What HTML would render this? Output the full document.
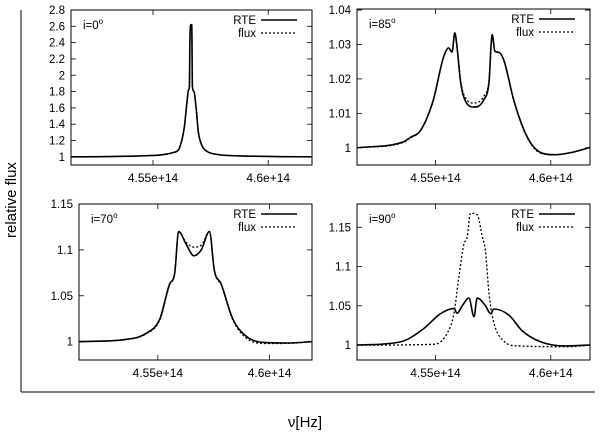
<!DOCTYPE html>
<html><head><meta charset="utf-8">
<style>
body{margin:0;background:#fff;}
svg{display:block;font-family:"Liberation Sans",sans-serif;}
</style></head>
<body>
<svg id="chart" width="600" height="433" viewBox="0 0 600 433">
<line x1="21" y1="10" x2="21" y2="392" stroke="#555" stroke-width="1.5"/>
<line x1="21" y1="392" x2="595" y2="392" stroke="#555" stroke-width="1.5"/>
<text x="16" y="200" font-size="15" text-anchor="middle" transform="rotate(-90 16 200)">relative flux</text>
<text x="305" y="427" font-size="15" text-anchor="middle">ν[Hz]</text>
</svg>
<script>
// Panel i=0
const x0 = [4.5144,4.53,4.5443,4.5588,4.5617,4.5636,4.5647,4.5654,4.5658,4.566,4.5664,4.5668,4.5671,4.5678,4.5687,4.5697,4.5712,4.5733,4.5777,4.5878,4.6,4.619];
const rte0 = [1.0,1.003,1.012,1.053,1.127,1.37,1.66,1.82,1.855,2.4,2.62,2.62,1.86,1.8,1.6,1.3,1.14,1.07,1.03,1.012,1.005,1.0];
const flux0 = [1.0,1.003,1.012,1.053,1.127,1.37,1.66,1.82,1.855,2.4,2.62,2.62,1.86,1.8,1.6,1.3,1.14,1.07,1.03,1.012,1.005,1.0];
// Panel i=85
const x85 = [4.516,4.536,4.539,4.5435,4.549,4.5535,4.5557,4.5572,4.5584,4.5594,4.5609,4.5623,4.5667,4.571,4.5732,4.5746,4.5758,4.5775,4.5797,4.584,4.5899,4.5957,4.6015,4.6087,4.617];
const rte85 = [1.0,1.0017,1.003,1.005,1.0137,1.0263,1.029,1.0278,1.0334,1.029,1.0191,1.0147,1.0118,1.014,1.019,1.0329,1.028,1.0277,1.0253,1.0137,1.003,0.9986,0.998,0.9986,1.0001];
const flux85 = [1.0,1.0015,1.0028,1.005,1.0135,1.0263,1.029,1.0278,1.033,1.029,1.0195,1.0155,1.013,1.015,1.0195,1.0325,1.028,1.0277,1.0253,1.0135,1.0028,0.9984,0.998,0.9986,1.0001];
// Panel i=70
const x70 = [4.515,4.5356,4.5445,4.5509,4.5553,4.5575,4.5593,4.5627,4.5661,4.5694,4.5731,4.5753,4.5783,4.5835,4.5895,4.5984,4.6088,4.619];
const rte70 = [1.0,1.0025,1.0087,1.025,1.063,1.074,1.12,1.106,1.0935,1.1,1.12,1.0775,1.063,1.025,1.006,0.999,0.9985,1.0];
const flux70 = [1.0,1.0022,1.0082,1.024,1.062,1.074,1.12,1.108,1.103,1.105,1.12,1.077,1.062,1.024,1.004,0.998,0.9982,1.0];
// Panel i=90
const x90r = [4.516,4.5348,4.5449,4.5522,4.558,4.5594,4.5616,4.5645,4.5667,4.5681,4.5717,4.5739,4.5753,4.5819,4.5877,4.5957,4.6058,4.617];
const rte90 = [1.0,1.004,1.021,1.04,1.0467,1.0406,1.05,1.06,1.036,1.06,1.05,1.04,1.046,1.038,1.018,1.004,0.999,1.0];
const x90f = [4.516,4.5493,4.5551,4.558,4.5601,4.5623,4.5638,4.5652,4.5681,4.5703,4.5717,4.5732,4.5754,4.5797,4.5855,4.6072,4.617];
const flux90 = [1.0,1.001,1.015,1.04,1.085,1.128,1.138,1.168,1.166,1.138,1.12,1.066,1.028,1.005,0.999,0.998,1.0];

const xTicks = [4.55,4.6];
const xTickLabels = ["4.55e+14","4.6e+14"];
const yTicks0 = [1,1.2,1.4,1.6,1.8,2,2.2,2.4,2.6,2.8];
const yLabels0 = ["1","1.2","1.4","1.6","1.8","2","2.2","2.4","2.6","2.8"];
const yTicks85 = [1,1.01,1.02,1.03,1.04];
const yLabels85 = ["1","1.01","1.02","1.03","1.04"];
const yTicks70 = [1,1.05,1.1,1.15];
const yLabels70 = ["1","1.05","1.1","1.15"];
const yTicks90 = [1,1.05,1.1,1.15];
const yLabels90 = ["1","1.05","1.1","1.15"];

const NS = "http://www.w3.org/2000/svg";
const svg = document.getElementById("chart");
function mk(tag, attrs, parent){const e=document.createElementNS(NS,tag);for(const k in attrs)e.setAttribute(k,attrs[k]);(parent||svg).appendChild(e);return e;}

function monoPath(px, py){
  const n = px.length, d=[], m=[];
  for(let i=0;i<n-1;i++) d.push((py[i+1]-py[i])/(px[i+1]-px[i]));
  m[0]=d[0]; m[n-1]=d[n-2];
  for(let i=1;i<n-1;i++){ m[i] = (d[i-1]*d[i]<=0)?0:(d[i-1]+d[i])/2; }
  for(let i=0;i<n-1;i++){
    if(d[i]===0){m[i]=0;m[i+1]=0;continue;}
    const a=m[i]/d[i], b=m[i+1]/d[i], s=a*a+b*b;
    if(s>9){const t=3/Math.sqrt(s); m[i]=t*a*d[i]; m[i+1]=t*b*d[i];}
  }
  let p = "M"+px[0].toFixed(1)+","+py[0].toFixed(1);
  for(let i=0;i<n-1;i++){
    const h=(px[i+1]-px[i])/3;
    p += "C"+(px[i]+h).toFixed(1)+","+(py[i]+m[i]*h).toFixed(1)+" "+(px[i+1]-h).toFixed(1)+","+(py[i+1]-m[i+1]*h).toFixed(1)+" "+px[i+1].toFixed(1)+","+py[i+1].toFixed(1);
  }
  return p;
}

function panel(name, box, xr, yr, yT, yL, label, series){
  const g = mk("g",{});
  
  
  const sx = v => box.l + (v - xr[0])/(xr[1]-xr[0])*(box.r-box.l);
  const sy = v => box.b - (v - yr[0])/(yr[1]-yr[0])*(box.b-box.t);
  yT.forEach((v,i)=>{
    const y = sy(v);
    const t = mk("line",{x1:box.l,x2:box.l+5,y1:y,y2:y,stroke:"#000","stroke-width":0.8},g);
    
    
    mk("line",{x1:box.r,x2:box.r-5,y1:y,y2:y,stroke:"#000","stroke-width":0.8},g);
    const tx = mk("text",{x:box.l-6,y:y+4,"font-size":11.5,"text-anchor":"end"},g);
    tx.textContent = yL[i];
    
    
  });
  xTicks.forEach((v,i)=>{
    const x = sx(v);
    const t = mk("line",{x1:x,x2:x,y1:box.b,y2:box.b-5,stroke:"#000","stroke-width":0.8},g);
    
    
    mk("line",{x1:x,x2:x,y1:box.t,y2:box.t+5,stroke:"#000","stroke-width":0.8},g);
    const tx = mk("text",{x:x,y:box.b+17,"font-size":12,"text-anchor":"middle"},g);
    tx.textContent = xTickLabels[i];
    
    
  });
  series.forEach(s=>{
    const d = monoPath(s.x.map(sx), s.y.map(sy));
    const p = mk("path",{d:d,fill:"none",stroke:"#000","stroke-width":s.dash?1.3:1.6,"stroke-dasharray":s.dash?"2,2":"none","stroke-linejoin":"round"},g);
    
    
  });
  const fr = mk("rect",{x:box.l,y:box.t,width:box.r-box.l,height:box.b-box.t,fill:"none",stroke:"#000","stroke-width":1},g);
  
  
  const lab = mk("text",{x:box.l+12,y:box.t+19,"font-size":11.5},g);
  lab.innerHTML = label + '<tspan dy="-5" font-size="8">o</tspan>';
  
  
  const lx = box.r-15;
  const t1 = mk("text",{x:lx-41,y:box.t+14,"font-size":11.5,"text-anchor":"end"},g);
  t1.textContent="RTE";
  
  
  const l1 = mk("line",{x1:lx-36,x2:lx,y1:box.t+10,y2:box.t+10,stroke:"#000","stroke-width":1.6},g);
  
  
  const t2 = mk("text",{x:lx-41,y:box.t+27,"font-size":11.5,"text-anchor":"end"},g);
  t2.textContent="flux";
  
  
  const l2 = mk("line",{x1:lx-36,x2:lx,y1:box.t+23,y2:box.t+23,stroke:"#000","stroke-width":1.3,"stroke-dasharray":"2,2"},g);
  
  
}

panel("panel-i0",{l:71,r:312,t:10,b:165},[4.5144,4.619],[0.9,2.8],yTicks0,yLabels0,"i=0",
  [{x:x0,y:flux0,dash:true,name:"flux-line-i0"},{x:x0,y:rte0,dash:false,name:"rte-line-i0"}]);
panel("panel-i85",{l:357,r:590,t:9,b:165},[4.516,4.617],[0.995,1.0403],yTicks85,yLabels85,"i=85",
  [{x:x85,y:flux85,dash:true,name:"flux-line-i85"},{x:x85,y:rte85,dash:false,name:"rte-line-i85"}]);
panel("panel-i70",{l:79,r:312,t:204,b:360},[4.5147,4.619],[0.98,1.15],yTicks70,yLabels70,"i=70",
  [{x:x70,y:flux70,dash:true,name:"flux-line-i70"},{x:x70,y:rte70,dash:false,name:"rte-line-i70"}]);
panel("panel-i90",{l:357,r:590,t:204,b:360},[4.516,4.617],[0.981,1.1797],yTicks90,yLabels90,"i=90",
  [{x:x90f,y:flux90,dash:true,name:"flux-line-i90"},{x:x90r,y:rte90,dash:false,name:"rte-line-i90"}]);
</script>
</body></html>
